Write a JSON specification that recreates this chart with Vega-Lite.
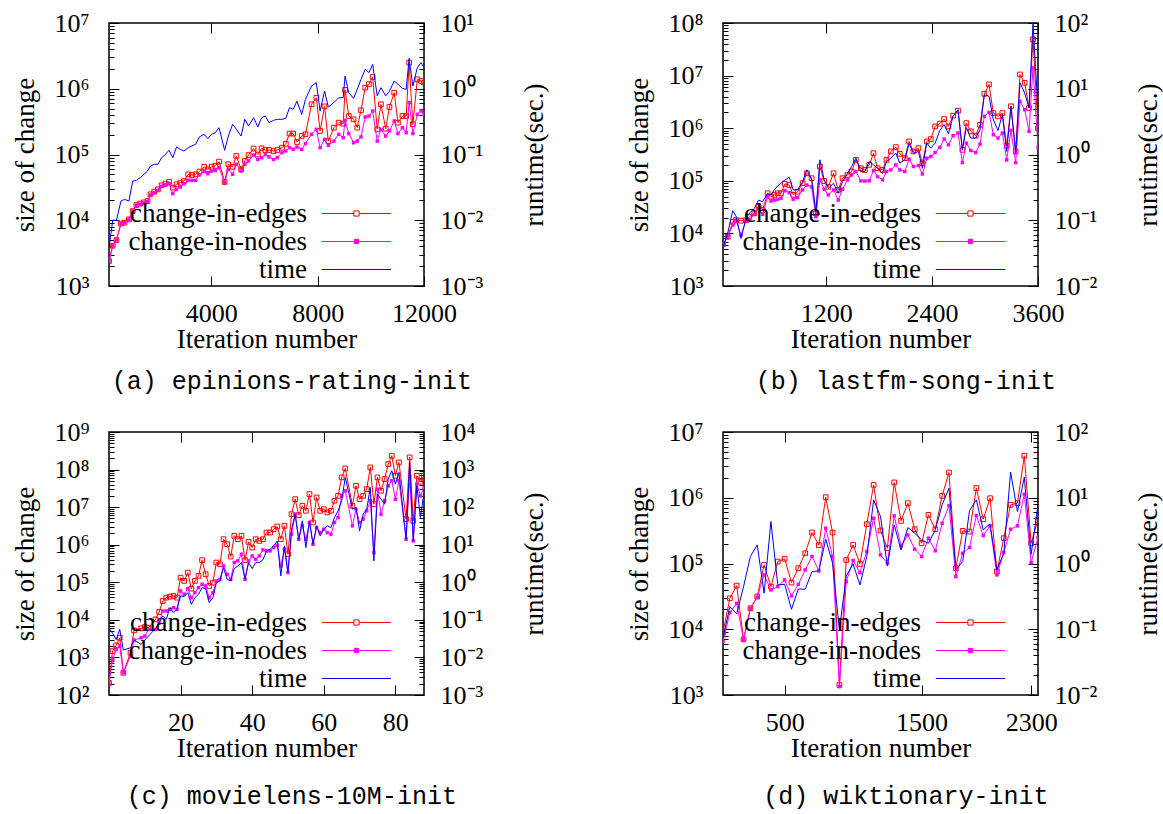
{
"$schema": "https://vega.github.io/schema/vega-lite/v6.json",
"background": "white",
"padding": {"left": 11, "top": 9, "right": 0, "bottom": 3},
"config": {
 "view": {"stroke": "black", "strokeWidth": 1.5},
 "axis": {"domain": false, "grid": false, "labelFont": "Liberation Serif", "labelFontSize": 26, "labelColor": "black", "titleFont": "Liberation Serif", "titleFontSize": 27, "titleFontWeight": "normal", "titleColor": "black", "tickColor": "black", "tickWidth": 1},
 "legend": {"title": null, "orient": "none", "legendX": 234, "legendY": 177, "labelFont": "Liberation Serif", "labelFontSize": 27, "labelColor": "black", "labelAlign": "right", "labelOffset": -63, "labelLimit": 400, "symbolSize": 300, "symbolStrokeWidth": 1, "rowPadding": 0, "padding": 0}
},
"datasets": {
"a": [
{"i":150,"e":2400,"n":2400,"t":0.0038},{"i":290,"e":4100,"n":4100,"t":0.01},{"i":430,"e":5000,"n":5000,"t":0.01},{"i":600,"e":8900,"n":8900,"t":0.0196},{"i":735,"e":9200,"n":9200,"t":0.0208},{"i":900,"e":10300,"n":10300,"t":0.0196},{"i":1040,"e":13800,"n":13800,"t":0.0395},{"i":1180,"e":17000,"n":17000,"t":0.0405},{"i":1320,"e":17900,"n":17500,"t":0.0444},{"i":1460,"e":18700,"n":18300,"t":0.0499},{"i":1600,"e":19600,"n":19200,"t":0.056},{"i":1710,"e":24800,"n":24200,"t":0.067},{"i":1850,"e":27200,"n":26300,"t":0.071},{"i":1990,"e":29500,"n":28500,"t":0.071},{"i":2130,"e":34000,"n":32800,"t":0.0895},{"i":2270,"e":36000,"n":34400,"t":0.1},{"i":2410,"e":38600,"n":36000,"t":0.116},{"i":2550,"e":31300,"n":25400,"t":0.0895},{"i":2690,"e":35200,"n":29500,"t":0.13},{"i":2830,"e":37300,"n":32000,"t":0.12},{"i":2970,"e":39500,"n":36000,"t":0.113},{"i":3130,"e":49900,"n":40500,"t":0.127},{"i":3270,"e":48800,"n":40500,"t":0.135},{"i":3410,"e":49900,"n":40500,"t":0.143},{"i":3550,"e":55000,"n":48800,"t":0.185},{"i":3730,"e":65000,"n":55000,"t":0.203},{"i":3870,"e":59500,"n":51000,"t":0.174},{"i":4010,"e":65000,"n":56000,"t":0.203},{"i":4150,"e":67000,"n":57000,"t":0.215},{"i":4290,"e":78000,"n":63000,"t":0.256},{"i":4500,"e":38200,"n":37300,"t":0.116},{"i":4640,"e":71000,"n":59500,"t":0.191},{"i":4800,"e":65000,"n":49900,"t":0.288},{"i":4940,"e":95000,"n":71000,"t":0.242},{"i":5120,"e":59500,"n":56000,"t":0.191},{"i":5260,"e":80000,"n":71000,"t":0.343},{"i":5400,"e":98000,"n":80000,"t":0.272},{"i":5590,"e":123000,"n":98000,"t":0.363},{"i":5750,"e":100000,"n":84000,"t":0.262},{"i":5890,"e":124000,"n":89500,"t":0.363},{"i":6030,"e":117000,"n":100000,"t":0.385},{"i":6170,"e":117000,"n":92000,"t":0.305},{"i":6340,"e":113000,"n":84000,"t":0.331},{"i":6480,"e":117000,"n":89500,"t":0.343},{"i":6660,"e":127000,"n":107000,"t":0.343},{"i":6800,"e":146000,"n":113000,"t":0.355},{"i":6940,"e":208000,"n":127000,"t":0.515},{"i":7080,"e":208000,"n":120000,"t":0.486},{"i":7220,"e":155000,"n":130000,"t":0.65},{"i":7400,"e":191000,"n":120000,"t":0.408},{"i":7540,"e":203000,"n":146000,"t":0.69},{"i":7770,"e":580000,"n":203000,"t":1.1},{"i":7950,"e":730000,"n":242000,"t":1.24},{"i":8090,"e":228000,"n":127000,"t":0.459},{"i":8260,"e":540000,"n":170000,"t":0.92},{"i":8400,"e":160000,"n":138000,"t":0.528},{"i":8610,"e":256000,"n":160000,"t":0.615},{"i":8790,"e":305000,"n":203000,"t":0.73},{"i":8960,"e":294000,"n":180000,"t":0.73},{"i":9030,"e":960000,"n":331000,"t":1.56},{"i":9170,"e":385000,"n":208000,"t":0.87},{"i":9350,"e":343000,"n":151000,"t":0.715},{"i":9490,"e":256000,"n":160000,"t":0.98},{"i":9630,"e":470000,"n":185000,"t":1.39},{"i":9790,"e":1040000,"n":372000,"t":1.98},{"i":9930,"e":1170000,"n":385000,"t":1.76},{"i":10070,"e":1510000,"n":459000,"t":2.35},{"i":10240,"e":242000,"n":160000,"t":0.78},{"i":10380,"e":580000,"n":242000,"t":1.04},{"i":10560,"e":247000,"n":191000,"t":0.78},{"i":10700,"e":528000,"n":228000,"t":0.92},{"i":10880,"e":870000,"n":324000,"t":1.31},{"i":11020,"e":305000,"n":208000,"t":1.17},{"i":11190,"e":385000,"n":256000,"t":1.01},{"i":11330,"e":385000,"n":215000,"t":0.98},{"i":11440,"e":2500000,"n":615000,"t":2.9},{"i":11580,"e":288000,"n":208000,"t":1.1},{"i":11750,"e":1390000,"n":408000,"t":2.1},{"i":11890,"e":1310000,"n":459000,"t":2.5},{"i":12000,"e":1240000,"n":408000,"t":2.1}
],
"b": [
{"i":30,"e":6200,"n":6200,"t":0.039},{"i":83,"e":8600,"n":8600,"t":0.063},{"i":140,"e":16600,"n":14400,"t":0.14},{"i":177,"e":17900,"n":17900,"t":0.116},{"i":234,"e":17400,"n":9300,"t":0.053},{"i":291,"e":17900,"n":17400,"t":0.107},{"i":328,"e":20700,"n":18400,"t":0.127},{"i":385,"e":24000,"n":23000,"t":0.152},{"i":434,"e":32200,"n":29900,"t":0.203},{"i":479,"e":27800,"n":23000,"t":0.191},{"i":536,"e":58000,"n":50000,"t":0.257},{"i":574,"e":50000,"n":41300,"t":0.242},{"i":611,"e":54000,"n":43000,"t":0.289},{"i":649,"e":58000,"n":44500,"t":0.333},{"i":687,"e":58000,"n":46500,"t":0.365},{"i":732,"e":87000,"n":65000,"t":0.41},{"i":781,"e":83000,"n":59500,"t":0.451},{"i":826,"e":54000,"n":44500,"t":0.289},{"i":875,"e":62000,"n":47800,"t":0.289},{"i":932,"e":90000,"n":67000,"t":0.387},{"i":981,"e":139000,"n":83000,"t":0.583},{"i":1034,"e":112000,"n":77000,"t":0.42},{"i":1083,"e":24000,"n":20700,"t":0.135},{"i":1128,"e":187000,"n":104000,"t":0.83},{"i":1177,"e":99000,"n":69000,"t":0.41},{"i":1223,"e":77000,"n":54000,"t":0.306},{"i":1283,"e":139000,"n":67000,"t":0.365},{"i":1336,"e":67000,"n":43000,"t":0.257},{"i":1385,"e":112000,"n":69000,"t":0.387},{"i":1441,"e":129000,"n":104000,"t":0.519},{"i":1487,"e":150000,"n":129000,"t":0.656},{"i":1536,"e":250000,"n":150000,"t":0.88},{"i":1592,"e":173000,"n":100000,"t":0.55},{"i":1638,"e":161000,"n":99000,"t":0.55},{"i":1687,"e":201000,"n":100000,"t":0.782},{"i":1736,"e":335000,"n":157000,"t":0.695},{"i":1781,"e":173000,"n":120000,"t":0.618},{"i":1838,"e":161000,"n":104000,"t":0.519},{"i":1883,"e":250000,"n":150000,"t":0.782},{"i":1932,"e":361000,"n":161000,"t":0.88},{"i":1989,"e":437000,"n":201000,"t":1.05},{"i":2034,"e":326000,"n":161000,"t":0.738},{"i":2090,"e":269000,"n":150000,"t":0.83},{"i":2139,"e":560000,"n":258000,"t":1.46},{"i":2188,"e":361000,"n":187000,"t":1.05},{"i":2245,"e":418000,"n":195000,"t":1.11},{"i":2290,"e":216000,"n":135000,"t":0.618},{"i":2340,"e":560000,"n":269000,"t":1.49},{"i":2385,"e":620000,"n":290000,"t":1.25},{"i":2434,"e":1080000,"n":345000,"t":1.49},{"i":2487,"e":1220000,"n":430000,"t":2.32},{"i":2536,"e":1490000,"n":620000,"t":2.84},{"i":2585,"e":1080000,"n":483000,"t":2.07},{"i":2638,"e":1730000,"n":720000,"t":3.8},{"i":2694,"e":2150000,"n":810000,"t":4.81},{"i":2743,"e":388000,"n":222000,"t":1.18},{"i":2788,"e":1250000,"n":520000,"t":2.58},{"i":2838,"e":870000,"n":377000,"t":1.78},{"i":2894,"e":720000,"n":345000,"t":1.78},{"i":2943,"e":1160000,"n":498000,"t":2.38},{"i":2992,"e":4500000,"n":1680000,"t":8.1},{"i":3045,"e":6800000,"n":2000000,"t":7.7},{"i":3094,"e":1940000,"n":750000,"t":3.38},{"i":3147,"e":1680000,"n":650000,"t":2.32},{"i":3196,"e":1940000,"n":810000,"t":4.03},{"i":3245,"e":463000,"n":250000,"t":1.11},{"i":3294,"e":2610000,"n":910000,"t":5.4},{"i":3347,"e":361000,"n":222000,"t":1.05},{"i":3396,"e":10500000,"n":3240000,"t":12.3},{"i":3449,"e":7300000,"n":2250000,"t":8.6},{"i":3498,"e":2420000,"n":870000,"t":5.1},{"i":3543,"e":49000000,"n":14000000,"t":100},{"i":3600,"e":1000000,"n":430000,"t":4.81}
],
"c": [
{"i":0,"e":210,"n":210,"t":0.0618},{"i":1,"e":1480,"n":885,"t":0.0437},{"i":2,"e":2090,"n":1630,"t":0.0302},{"i":3,"e":3340,"n":2000,"t":0.0558},{"i":4,"e":390,"n":390,"t":0.0157},{"i":6,"e":1330,"n":1090,"t":0.0181},{"i":7,"e":5250,"n":2900,"t":0.029},{"i":9,"e":5930,"n":3340,"t":0.0222},{"i":10,"e":6440,"n":3710,"t":0.029},{"i":11,"e":6180,"n":5580,"t":0.0371},{"i":13,"e":10300,"n":5580,"t":0.058},{"i":14,"e":16200,"n":8400,"t":0.084},{"i":15,"e":31800,"n":17200,"t":0.126},{"i":16,"e":39000,"n":17200,"t":0.103},{"i":17,"e":41500,"n":19100,"t":0.211},{"i":18,"e":43200,"n":21100,"t":0.155},{"i":19,"e":39000,"n":19100,"t":0.191},{"i":20,"e":133000,"n":58800,"t":0.432},{"i":21,"e":109000,"n":47900,"t":0.415},{"i":22,"e":181000,"n":67800,"t":0.53},{"i":23,"e":67800,"n":39000,"t":0.259},{"i":24,"e":109000,"n":53000,"t":0.39},{"i":25,"e":148000,"n":72100,"t":0.479},{"i":26,"e":386000,"n":88500,"t":0.721},{"i":27,"e":163000,"n":79800,"t":0.678},{"i":28,"e":79800,"n":39000,"t":0.287},{"i":29,"e":98000,"n":53000,"t":0.39},{"i":30,"e":335000,"n":109000,"t":0.98},{"i":31,"e":302000,"n":120000,"t":1.09},{"i":32,"e":1400000,"n":273000,"t":2.46},{"i":33,"e":1030000,"n":163000,"t":1.2},{"i":34,"e":483000,"n":120000,"t":1.09},{"i":35,"e":1720000,"n":335000,"t":2.31},{"i":36,"e":1400000,"n":371000,"t":2.73},{"i":37,"e":1720000,"n":558000,"t":3.35},{"i":38,"e":386000,"n":120000,"t":1.2},{"i":39,"e":1190000,"n":371000,"t":3.35},{"i":40,"e":840000,"n":504000,"t":2.31},{"i":41,"e":1400000,"n":410000,"t":3.35},{"i":42,"e":1260000,"n":504000,"t":3.35},{"i":43,"e":1400000,"n":728000,"t":3.94},{"i":44,"e":2110000,"n":685000,"t":6.85},{"i":45,"e":2110000,"n":685000,"t":7.59},{"i":46,"e":2590000,"n":840000,"t":9.3},{"i":47,"e":3050000,"n":970000,"t":12.6},{"i":48,"e":1400000,"n":273000,"t":1.48},{"i":49,"e":3180000,"n":759000,"t":9.3},{"i":50,"e":558000,"n":181000,"t":1.81},{"i":51,"e":6500000,"n":1910000,"t":25.9},{"i":52,"e":16300000,"n":6500000,"t":65},{"i":53,"e":6120000,"n":1400000,"t":14},{"i":54,"e":10900000,"n":3180000,"t":43.2},{"i":55,"e":7980000,"n":1400000,"t":8.4},{"i":56,"e":22200000,"n":3900000,"t":43.2},{"i":57,"e":3900000,"n":1030000,"t":10.3},{"i":58,"e":18100000,"n":2870000,"t":31.8},{"i":59,"e":7980000,"n":2110000,"t":17.2},{"i":60,"e":8850000,"n":2590000,"t":25.9},{"i":61,"e":7210000,"n":2110000,"t":31.8},{"i":62,"e":7980000,"n":1910000,"t":28.7},{"i":63,"e":14800000,"n":3900000,"t":53},{"i":64,"e":20000000,"n":5300000,"t":79.8},{"i":65,"e":61800000,"n":20000000,"t":148},{"i":66,"e":107000000,"n":27300000,"t":618},{"i":68,"e":10900000,"n":3180000,"t":88.5},{"i":69,"e":37100000,"n":8850000,"t":98},{"i":70,"e":16300000,"n":3900000,"t":23.4},{"i":71,"e":20000000,"n":4790000,"t":65},{"i":72,"e":30200000,"n":7980000,"t":88.5},{"i":73,"e":114000000,"n":14800000,"t":335},{"i":74,"e":12000000,"n":618000,"t":3.71},{"i":75,"e":61800000,"n":30200000,"t":222},{"i":76,"e":27300000,"n":6500000,"t":163},{"i":77,"e":55800000,"n":14800000,"t":120},{"i":78,"e":140000000,"n":37100000,"t":558},{"i":79,"e":234000000,"n":50400000,"t":930},{"i":80,"e":68500000,"n":16300000,"t":410},{"i":81,"e":155000000,"n":50400000,"t":840},{"i":83,"e":4790000,"n":1400000,"t":14},{"i":84,"e":211000000,"n":68500000,"t":1550},{"i":85,"e":4320000,"n":1260000,"t":12.6},{"i":86,"e":68500000,"n":41000000,"t":371},{"i":87,"e":47400000,"n":20000000,"t":53},{"i":88,"e":68500000,"n":33500000,"t":246}
],
"d": [
{"i":50,"e":8900,"n":6500,"t":0.073},{"i":100,"e":29600,"n":17900,"t":0.221},{"i":150,"e":46100,"n":24800,"t":0.171},{"i":200,"e":7000,"n":6900,"t":0.445},{"i":250,"e":20800,"n":20800,"t":1.28},{"i":300,"e":31400,"n":30700,"t":1.92},{"i":350,"e":95200,"n":67000,"t":0.353},{"i":400,"e":44500,"n":39600,"t":4.35},{"i":450,"e":107000,"n":44500,"t":0.472},{"i":500,"e":118000,"n":56300,"t":0.483},{"i":550,"e":51300,"n":32100,"t":0.201},{"i":600,"e":84700,"n":48300,"t":0.41},{"i":650,"e":143000,"n":80000,"t":0.406},{"i":700,"e":296000,"n":128000,"t":0.754},{"i":750,"e":190000,"n":77100,"t":0.771},{"i":800,"e":1020000,"n":344000,"t":2.34},{"i":850,"e":296000,"n":128000,"t":1.01},{"i":900,"e":1420,"n":1340,"t":0.0975},{"i":950,"e":113000,"n":53100,"t":0.647},{"i":1000,"e":192000,"n":111000,"t":0.986},{"i":1050,"e":98600,"n":72700,"t":0.472},{"i":1100,"e":396000,"n":152000,"t":1.28},{"i":1150,"e":1570000,"n":489000,"t":9.29},{"i":1200,"e":317000,"n":135000,"t":5.18},{"i":1250,"e":171000,"n":101000,"t":0.919},{"i":1300,"e":1710000,"n":530000,"t":3.87},{"i":1350,"e":445000,"n":185000,"t":1.61},{"i":1400,"e":826000,"n":272000,"t":3.52},{"i":1450,"e":332000,"n":165000,"t":2.89},{"i":1500,"e":203000,"n":128000,"t":2.28},{"i":1550,"e":550000,"n":243000,"t":2.03},{"i":1600,"e":332000,"n":156000,"t":3.25},{"i":1650,"e":1070000,"n":410000,"t":7.8},{"i":1700,"e":2420000,"n":762000,"t":14},{"i":1750,"e":84700,"n":63200,"t":0.8},{"i":1800,"e":313000,"n":143000,"t":1.07},{"i":1850,"e":306000,"n":175000,"t":6.39},{"i":1900,"e":1400000,"n":537000,"t":9.29},{"i":1950,"e":472000,"n":266000,"t":3.25},{"i":2000,"e":984000,"n":374000,"t":4},{"i":2050,"e":75400,"n":67000,"t":0.8},{"i":2100,"e":243000,"n":147000,"t":1.43},{"i":2150,"e":780000,"n":332000,"t":24.5},{"i":2200,"e":826000,"n":374000,"t":6.17},{"i":2250,"e":4350000,"n":1130000,"t":20.6},{"i":2300,"e":203000,"n":103000,"t":1.38},{"i":2350,"e":461000,"n":248000,"t":7.8}
]
},
"resolve": {"scale": {"color": "independent"}, "legend": {"color": "independent"}},
"spacing": 23,
"vconcat": [
{"spacing": 76, "resolve": {"scale": {"color": "independent"}, "legend": {"color": "independent"}}, "hconcat": [
{
 "width": 315, "height": 263, "data": {"name": "a"},
 "title": {"text": "(a) epinions-rating-init", "orient": "bottom", "offset": 17, "frame": "bounds", "anchor": "middle", "dx": 12, "font": "Liberation Mono", "fontSize": 25, "fontWeight": "normal", "color": "black"},
 "layer": [
  {"layer": [
   {"mark": {"type": "line", "strokeWidth": 1, "clip": true, "point": {"shape": "square", "filled": false, "size": 22, "strokeWidth": 1}},
    "encoding": {
     "x": {"field": "i", "type": "quantitative", "scale": {"domain": [150, 12000], "nice": false, "zero": false}, "axis": {"orient": "bottom", "title": "Iteration number", "format": "d", "values": [4000, 8000, 12000], "tickSize": -10, "labelPadding": 24, "labelFlush": false, "titlePadding": 0}},
     "y": {"field": "e", "type": "quantitative", "scale": {"type": "log", "domain": [1e3, 1e7], "nice": false}, "axis": {"orient": "left", "title": "size of change", "values": [1e3,2e3,3e3,4e3,5e3,6e3,7e3,8e3,9e3,1e4,2e4,3e4,4e4,5e4,6e4,7e4,8e4,9e4,1e5,2e5,3e5,4e5,5e5,6e5,7e5,8e5,9e5,1e6,2e6,3e6,4e6,5e6,6e6,7e6,8e6,9e6,1e7], "tickSize": {"condition": {"test": "abs(log(datum.value)/LN10-round(log(datum.value)/LN10))<0.01", "value": -10}, "value": -5}, "labelExpr": "abs(log(datum.value)/LN10-round(log(datum.value)/LN10))<0.01 ? '10'+['⁻³','⁻²','⁻¹','⁰','¹','²','³','⁴','⁵','⁶','⁷','⁸','⁹'][round(log(datum.value)/LN10)+3] : ''", "labelPadding": 30, "labelOverlap": false, "titlePadding": 14}},
     "color": {"datum": "change-in-edges", "type": "nominal", "scale": {"domain": ["change-in-edges", "change-in-nodes", "time"], "range": ["#ff0000", "#ff00ff", "#0000ff"]}, "legend": {"encode": {"symbols": {"update": {"shape": {"signal": "datum.value === 'time' ? 'M-4,0H4' : datum.value === 'change-in-nodes' ? 'M-4,0H4M-0.25,-0.25H0.25V0.25H-0.25Z' : 'M-4,0H-0.3M0.3,0H4M-0.3,-0.3H0.3M0.3,-0.3V0.3M0.3,0.3H-0.3M-0.3,0.3V-0.3'"}}}}}}
    }},
   {"mark": {"type": "line", "strokeWidth": 1, "clip": true, "point": {"shape": "square", "filled": true, "size": 12}},
    "encoding": {"x": {"field": "i", "type": "quantitative", "scale": {"domain": [150, 12000], "nice": false, "zero": false}}, "y": {"field": "n", "type": "quantitative", "scale": {"type": "log", "domain": [1e3, 1e7], "nice": false}}, "color": {"datum": "change-in-nodes", "type": "nominal"}}}
  ]},
  {"mark": {"type": "line", "strokeWidth": 1, "clip": true},
   "encoding": {
    "x": {"field": "i", "type": "quantitative", "scale": {"domain": [150, 12000], "nice": false, "zero": false}, "axis": {"orient": "top", "values": [4000, 8000, 12000], "tickSize": -10, "labels": false, "title": null}},
    "y": {"field": "t", "type": "quantitative", "scale": {"type": "log", "domain": [1e-3, 10], "nice": false}, "axis": {"orient": "right", "title": "runtime(sec.)", "titleAngle": 270, "titleBaseline": "top", "values": [1e-3,2e-3,3e-3,4e-3,5e-3,6e-3,7e-3,8e-3,9e-3,1e-2,2e-2,3e-2,4e-2,5e-2,6e-2,7e-2,8e-2,9e-2,0.1,0.2,0.3,0.4,0.5,0.6,0.7,0.8,0.9,1,2,3,4,5,6,7,8,9,10], "tickSize": {"condition": {"test": "abs(log(datum.value)/LN10-round(log(datum.value)/LN10))<0.01", "value": -10}, "value": -5}, "labelExpr": "abs(log(datum.value)/LN10-round(log(datum.value)/LN10))<0.01 ? '10'+['⁻³','⁻²','⁻¹','⁰','¹','²','³','⁴','⁵','⁶','⁷','⁸','⁹'][round(log(datum.value)/LN10)+3] : ''", "labelPadding": 26, "labelOverlap": false, "titlePadding": 39}},
    "color": {"datum": "time", "type": "nominal"}
   }}
 ],
 "resolve": {"scale": {"y": "independent"}, "axis": {"x": "independent", "y": "independent"}}
},
{
 "width": 315, "height": 263, "data": {"name": "b"},
 "title": {"text": "(b) lastfm-song-init", "orient": "bottom", "offset": 17, "frame": "bounds", "anchor": "middle", "dx": 12, "font": "Liberation Mono", "fontSize": 25, "fontWeight": "normal", "color": "black"},
 "layer": [
  {"layer": [
   {"mark": {"type": "line", "strokeWidth": 1, "clip": true, "point": {"shape": "square", "filled": false, "size": 22, "strokeWidth": 1}},
    "encoding": {
     "x": {"field": "i", "type": "quantitative", "scale": {"domain": [30, 3600], "nice": false, "zero": false}, "axis": {"orient": "bottom", "title": "Iteration number", "format": "d", "values": [1200, 2400, 3600], "tickSize": -10, "labelPadding": 24, "labelFlush": false, "titlePadding": 0}},
     "y": {"field": "e", "type": "quantitative", "scale": {"type": "log", "domain": [1e3, 1e8], "nice": false}, "axis": {"orient": "left", "title": "size of change", "values": [1e3,2e3,3e3,4e3,5e3,6e3,7e3,8e3,9e3,1e4,2e4,3e4,4e4,5e4,6e4,7e4,8e4,9e4,1e5,2e5,3e5,4e5,5e5,6e5,7e5,8e5,9e5,1e6,2e6,3e6,4e6,5e6,6e6,7e6,8e6,9e6,1e7,2e7,3e7,4e7,5e7,6e7,7e7,8e7,9e7,1e8], "tickSize": {"condition": {"test": "abs(log(datum.value)/LN10-round(log(datum.value)/LN10))<0.01", "value": -10}, "value": -5}, "labelExpr": "abs(log(datum.value)/LN10-round(log(datum.value)/LN10))<0.01 ? '10'+['⁻³','⁻²','⁻¹','⁰','¹','²','³','⁴','⁵','⁶','⁷','⁸','⁹'][round(log(datum.value)/LN10)+3] : ''", "labelPadding": 30, "labelOverlap": false, "titlePadding": 14}},
     "color": {"datum": "change-in-edges", "type": "nominal", "scale": {"domain": ["change-in-edges", "change-in-nodes", "time"], "range": ["#ff0000", "#ff00ff", "#0000ff"]}, "legend": {"encode": {"symbols": {"update": {"shape": {"signal": "datum.value === 'time' ? 'M-4,0H4' : datum.value === 'change-in-nodes' ? 'M-4,0H4M-0.25,-0.25H0.25V0.25H-0.25Z' : 'M-4,0H-0.3M0.3,0H4M-0.3,-0.3H0.3M0.3,-0.3V0.3M0.3,0.3H-0.3M-0.3,0.3V-0.3'"}}}}}}
    }},
   {"mark": {"type": "line", "strokeWidth": 1, "clip": true, "point": {"shape": "square", "filled": true, "size": 12}},
    "encoding": {"x": {"field": "i", "type": "quantitative", "scale": {"domain": [30, 3600], "nice": false, "zero": false}}, "y": {"field": "n", "type": "quantitative", "scale": {"type": "log", "domain": [1e3, 1e8], "nice": false}}, "color": {"datum": "change-in-nodes", "type": "nominal"}}}
  ]},
  {"mark": {"type": "line", "strokeWidth": 1, "clip": true},
   "encoding": {
    "x": {"field": "i", "type": "quantitative", "scale": {"domain": [30, 3600], "nice": false, "zero": false}, "axis": {"orient": "top", "values": [1200, 2400, 3600], "tickSize": -10, "labels": false, "title": null}},
    "y": {"field": "t", "type": "quantitative", "scale": {"type": "log", "domain": [1e-2, 100], "nice": false}, "axis": {"orient": "right", "title": "runtime(sec.)", "titleAngle": 270, "titleBaseline": "top", "values": [1e-2,2e-2,3e-2,4e-2,5e-2,6e-2,7e-2,8e-2,9e-2,0.1,0.2,0.3,0.4,0.5,0.6,0.7,0.8,0.9,1,2,3,4,5,6,7,8,9,10,20,30,40,50,60,70,80,90,100], "tickSize": {"condition": {"test": "abs(log(datum.value)/LN10-round(log(datum.value)/LN10))<0.01", "value": -10}, "value": -5}, "labelExpr": "abs(log(datum.value)/LN10-round(log(datum.value)/LN10))<0.01 ? '10'+['⁻³','⁻²','⁻¹','⁰','¹','²','³','⁴','⁵','⁶','⁷','⁸','⁹'][round(log(datum.value)/LN10)+3] : ''", "labelPadding": 26, "labelOverlap": false, "titlePadding": 39}},
    "color": {"datum": "time", "type": "nominal"}
   }}
 ],
 "resolve": {"scale": {"y": "independent"}, "axis": {"x": "independent", "y": "independent"}}
}
]},
{"spacing": 76, "resolve": {"scale": {"color": "independent"}, "legend": {"color": "independent"}}, "hconcat": [
{
 "width": 315, "height": 263, "data": {"name": "c"},
 "title": {"text": "(c) movielens-10M-init", "orient": "bottom", "offset": 23, "frame": "bounds", "anchor": "middle", "dx": 12, "font": "Liberation Mono", "fontSize": 25, "fontWeight": "normal", "color": "black"},
 "layer": [
  {"layer": [
   {"mark": {"type": "line", "strokeWidth": 1, "clip": true, "point": {"shape": "square", "filled": false, "size": 22, "strokeWidth": 1}},
    "encoding": {
     "x": {"field": "i", "type": "quantitative", "scale": {"domain": [0, 88], "nice": false, "zero": false}, "axis": {"orient": "bottom", "title": "Iteration number", "format": "d", "values": [20, 40, 60, 80], "tickSize": -10, "labelPadding": 24, "labelFlush": false, "titlePadding": 0}},
     "y": {"field": "e", "type": "quantitative", "scale": {"type": "log", "domain": [1e2, 1e9], "nice": false}, "axis": {"orient": "left", "title": "size of change", "values": [1e2,2e2,3e2,4e2,5e2,6e2,7e2,8e2,9e2,1e3,2e3,3e3,4e3,5e3,6e3,7e3,8e3,9e3,1e4,2e4,3e4,4e4,5e4,6e4,7e4,8e4,9e4,1e5,2e5,3e5,4e5,5e5,6e5,7e5,8e5,9e5,1e6,2e6,3e6,4e6,5e6,6e6,7e6,8e6,9e6,1e7,2e7,3e7,4e7,5e7,6e7,7e7,8e7,9e7,1e8,2e8,3e8,4e8,5e8,6e8,7e8,8e8,9e8,1e9], "tickSize": {"condition": {"test": "abs(log(datum.value)/LN10-round(log(datum.value)/LN10))<0.01", "value": -10}, "value": -5}, "labelExpr": "abs(log(datum.value)/LN10-round(log(datum.value)/LN10))<0.01 ? '10'+['⁻³','⁻²','⁻¹','⁰','¹','²','³','⁴','⁵','⁶','⁷','⁸','⁹'][round(log(datum.value)/LN10)+3] : ''", "labelPadding": 30, "labelOverlap": false, "titlePadding": 14}},
     "color": {"datum": "change-in-edges", "type": "nominal", "scale": {"domain": ["change-in-edges", "change-in-nodes", "time"], "range": ["#ff0000", "#ff00ff", "#0000ff"]}, "legend": {"encode": {"symbols": {"update": {"shape": {"signal": "datum.value === 'time' ? 'M-4,0H4' : datum.value === 'change-in-nodes' ? 'M-4,0H4M-0.25,-0.25H0.25V0.25H-0.25Z' : 'M-4,0H-0.3M0.3,0H4M-0.3,-0.3H0.3M0.3,-0.3V0.3M0.3,0.3H-0.3M-0.3,0.3V-0.3'"}}}}}}
    }},
   {"mark": {"type": "line", "strokeWidth": 1, "clip": true, "point": {"shape": "square", "filled": true, "size": 12}},
    "encoding": {"x": {"field": "i", "type": "quantitative", "scale": {"domain": [0, 88], "nice": false, "zero": false}}, "y": {"field": "n", "type": "quantitative", "scale": {"type": "log", "domain": [1e2, 1e9], "nice": false}}, "color": {"datum": "change-in-nodes", "type": "nominal"}}}
  ]},
  {"mark": {"type": "line", "strokeWidth": 1, "clip": true},
   "encoding": {
    "x": {"field": "i", "type": "quantitative", "scale": {"domain": [0, 88], "nice": false, "zero": false}, "axis": {"orient": "top", "values": [20, 40, 60, 80], "tickSize": -10, "labels": false, "title": null}},
    "y": {"field": "t", "type": "quantitative", "scale": {"type": "log", "domain": [1e-3, 1e4], "nice": false}, "axis": {"orient": "right", "title": "runtime(sec.)", "titleAngle": 270, "titleBaseline": "top", "values": [1e-3,2e-3,3e-3,4e-3,5e-3,6e-3,7e-3,8e-3,9e-3,1e-2,2e-2,3e-2,4e-2,5e-2,6e-2,7e-2,8e-2,9e-2,0.1,0.2,0.3,0.4,0.5,0.6,0.7,0.8,0.9,1,2,3,4,5,6,7,8,9,10,20,30,40,50,60,70,80,90,100,200,300,400,500,600,700,800,900,1000,2000,3000,4000,5000,6000,7000,8000,9000,10000], "tickSize": {"condition": {"test": "abs(log(datum.value)/LN10-round(log(datum.value)/LN10))<0.01", "value": -10}, "value": -5}, "labelExpr": "abs(log(datum.value)/LN10-round(log(datum.value)/LN10))<0.01 ? '10'+['⁻³','⁻²','⁻¹','⁰','¹','²','³','⁴','⁵','⁶','⁷','⁸','⁹'][round(log(datum.value)/LN10)+3] : ''", "labelPadding": 26, "labelOverlap": false, "titlePadding": 39}},
    "color": {"datum": "time", "type": "nominal"}
   }}
 ],
 "resolve": {"scale": {"y": "independent"}, "axis": {"x": "independent", "y": "independent"}}
},
{
 "width": 315, "height": 263, "data": {"name": "d"},
 "title": {"text": "(d) wiktionary-init", "orient": "bottom", "offset": 23, "frame": "bounds", "anchor": "middle", "dx": 12, "font": "Liberation Mono", "fontSize": 25, "fontWeight": "normal", "color": "black"},
 "layer": [
  {"layer": [
   {"mark": {"type": "line", "strokeWidth": 1, "clip": true, "point": {"shape": "square", "filled": false, "size": 22, "strokeWidth": 1}},
    "encoding": {
     "x": {"field": "i", "type": "quantitative", "scale": {"domain": [50, 2350], "nice": false, "zero": false}, "axis": {"orient": "bottom", "title": "Iteration number", "format": "d", "values": [500, 1500, 2300], "tickSize": -10, "labelPadding": 24, "labelFlush": false, "titlePadding": 0}},
     "y": {"field": "e", "type": "quantitative", "scale": {"type": "log", "domain": [1e3, 1e7], "nice": false}, "axis": {"orient": "left", "title": "size of change", "values": [1e3,2e3,3e3,4e3,5e3,6e3,7e3,8e3,9e3,1e4,2e4,3e4,4e4,5e4,6e4,7e4,8e4,9e4,1e5,2e5,3e5,4e5,5e5,6e5,7e5,8e5,9e5,1e6,2e6,3e6,4e6,5e6,6e6,7e6,8e6,9e6,1e7], "tickSize": {"condition": {"test": "abs(log(datum.value)/LN10-round(log(datum.value)/LN10))<0.01", "value": -10}, "value": -5}, "labelExpr": "abs(log(datum.value)/LN10-round(log(datum.value)/LN10))<0.01 ? '10'+['⁻³','⁻²','⁻¹','⁰','¹','²','³','⁴','⁵','⁶','⁷','⁸','⁹'][round(log(datum.value)/LN10)+3] : ''", "labelPadding": 30, "labelOverlap": false, "titlePadding": 14}},
     "color": {"datum": "change-in-edges", "type": "nominal", "scale": {"domain": ["change-in-edges", "change-in-nodes", "time"], "range": ["#ff0000", "#ff00ff", "#0000ff"]}, "legend": {"encode": {"symbols": {"update": {"shape": {"signal": "datum.value === 'time' ? 'M-4,0H4' : datum.value === 'change-in-nodes' ? 'M-4,0H4M-0.25,-0.25H0.25V0.25H-0.25Z' : 'M-4,0H-0.3M0.3,0H4M-0.3,-0.3H0.3M0.3,-0.3V0.3M0.3,0.3H-0.3M-0.3,0.3V-0.3'"}}}}}}
    }},
   {"mark": {"type": "line", "strokeWidth": 1, "clip": true, "point": {"shape": "square", "filled": true, "size": 12}},
    "encoding": {"x": {"field": "i", "type": "quantitative", "scale": {"domain": [50, 2350], "nice": false, "zero": false}}, "y": {"field": "n", "type": "quantitative", "scale": {"type": "log", "domain": [1e3, 1e7], "nice": false}}, "color": {"datum": "change-in-nodes", "type": "nominal"}}}
  ]},
  {"mark": {"type": "line", "strokeWidth": 1, "clip": true},
   "encoding": {
    "x": {"field": "i", "type": "quantitative", "scale": {"domain": [50, 2350], "nice": false, "zero": false}, "axis": {"orient": "top", "values": [500, 1500, 2300], "tickSize": -10, "labels": false, "title": null}},
    "y": {"field": "t", "type": "quantitative", "scale": {"type": "log", "domain": [1e-2, 100], "nice": false}, "axis": {"orient": "right", "title": "runtime(sec.)", "titleAngle": 270, "titleBaseline": "top", "values": [1e-2,2e-2,3e-2,4e-2,5e-2,6e-2,7e-2,8e-2,9e-2,0.1,0.2,0.3,0.4,0.5,0.6,0.7,0.8,0.9,1,2,3,4,5,6,7,8,9,10,20,30,40,50,60,70,80,90,100], "tickSize": {"condition": {"test": "abs(log(datum.value)/LN10-round(log(datum.value)/LN10))<0.01", "value": -10}, "value": -5}, "labelExpr": "abs(log(datum.value)/LN10-round(log(datum.value)/LN10))<0.01 ? '10'+['⁻³','⁻²','⁻¹','⁰','¹','²','³','⁴','⁵','⁶','⁷','⁸','⁹'][round(log(datum.value)/LN10)+3] : ''", "labelPadding": 26, "labelOverlap": false, "titlePadding": 39}},
    "color": {"datum": "time", "type": "nominal"}
   }}
 ],
 "resolve": {"scale": {"y": "independent"}, "axis": {"x": "independent", "y": "independent"}}
}
]}
]
}
